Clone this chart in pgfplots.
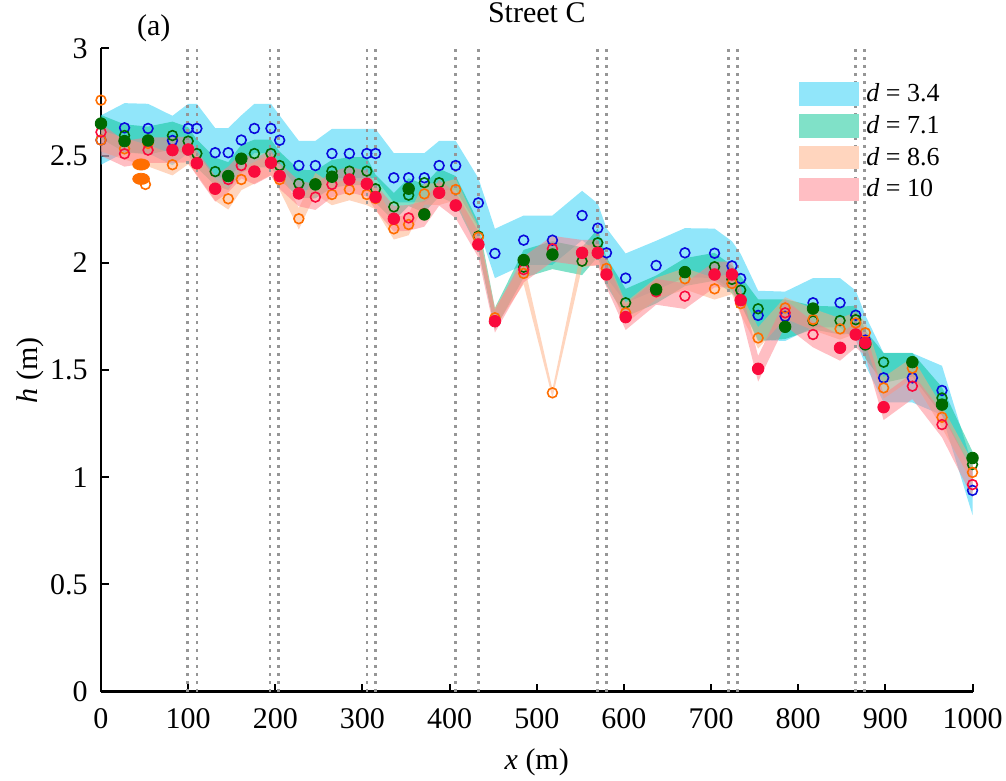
\documentclass[border=0pt]{standalone}
\usepackage{fontspec}
\setmainfont{Liberation Serif}
\usepackage{pgfplots}
\usepackage{pgfplotstable}
\pgfplotsset{compat=1.18}
\usepgfplotslibrary{fillbetween}

% band colours (drawn at half opacity) and swatch colours for the legend
\definecolor{cyanB}{RGB}{35,205,245}
\definecolor{tealB}{RGB}{0,195,145}
\definecolor{peachB}{RGB}{255,171,125}
\definecolor{pinkB}{RGB}{255,125,135}
\definecolor{cyanL}{RGB}{145,230,250}
\definecolor{tealL}{RGB}{128,225,200}
\definecolor{peachL}{RGB}{255,213,190}
\definecolor{pinkL}{RGB}{255,190,195}
% marker colours
\definecolor{mBlue}{RGB}{10,10,220}
\definecolor{mGreen}{RGB}{0,105,0}
\definecolor{mOrange}{RGB}{255,110,0}
\definecolor{mRed}{RGB}{250,10,60}
\definecolor{dotgray}{RGB}{150,150,150}

% spread bands: x, lower, upper
\pgfplotstableread{
x lo hi
0 2.458 2.688
27 2.515 2.745
54 2.512 2.742
82 2.456 2.686
100 2.512 2.742
110 2.512 2.742
131 2.399 2.629
146 2.399 2.629
161 2.458 2.688
176 2.512 2.742
195 2.512 2.742
205 2.457 2.687
227 2.339 2.569
246 2.339 2.569
265 2.395 2.625
285 2.395 2.625
305 2.395 2.625
315 2.395 2.625
336 2.282 2.512
353 2.282 2.512
371 2.282 2.512
388 2.339 2.569
407 2.339 2.569
433 2.165 2.395
452 1.929 2.159
485 1.991 2.221
518 1.991 2.221
552 2.106 2.336
570 2.047 2.277
580 1.932 2.162
602 1.814 2.044
637 1.873 2.103
670 1.932 2.162
704 1.930 2.160
724 1.871 2.101
734 1.812 2.042
754 1.640 1.870
785 1.636 1.866
817 1.699 1.929
848 1.699 1.929
866 1.641 1.871
877 1.525 1.755
898 1.349 1.579
931 1.349 1.579
965 1.290 1.520
1000 0.824 1.054
}\bandA

\pgfplotstableread{
x lo hi
0 2.580 2.690
27 2.516 2.646
54 2.506 2.636
82 2.529 2.659
100 2.503 2.633
110 2.445 2.575
131 2.361 2.491
146 2.340 2.470
161 2.421 2.551
176 2.445 2.575
195 2.445 2.575
205 2.389 2.519
227 2.305 2.435
246 2.301 2.431
265 2.350 2.480
285 2.363 2.493
305 2.363 2.493
315 2.281 2.411
336 2.196 2.326
353 2.265 2.395
371 2.235 2.365
388 2.309 2.439
407 2.275 2.405
433 2.060 2.190
452 1.690 1.790
485 1.931 2.061
518 1.971 2.101
552 1.943 2.073
570 2.029 2.159
580 1.895 2.025
602 1.749 1.879
637 1.811 1.941
670 1.892 2.022
704 1.917 2.047
724 1.858 1.988
734 1.808 1.938
754 1.635 1.830
785 1.645 1.830
817 1.690 1.800
848 1.666 1.796
866 1.670 1.800
877 1.555 1.685
898 1.440 1.580
931 1.470 1.580
965 1.290 1.420
1000 1.030 1.120
}\bandB

\pgfplotstableread{
x lo hi
0 2.520 2.620
27 2.482 2.582
54 2.450 2.550
82 2.408 2.508
100 2.460 2.560
110 2.412 2.512
131 2.290 2.390
146 2.249 2.349
161 2.339 2.439
176 2.370 2.470
195 2.410 2.510
205 2.339 2.439
227 2.156 2.256
246 2.320 2.420
265 2.269 2.369
285 2.292 2.392
305 2.269 2.369
315 2.250 2.350
336 2.109 2.209
353 2.129 2.229
371 2.272 2.372
388 2.270 2.370
407 2.292 2.392
433 2.070 2.170
452 1.700 1.790
485 1.901 2.001
518 1.370 1.410
552 1.980 2.080
570 1.990 2.090
580 1.924 2.024
602 1.717 1.817
637 1.830 1.930
670 1.876 1.976
704 1.829 1.929
724 1.854 1.954
734 1.760 1.860
754 1.600 1.700
785 1.740 1.840
817 1.686 1.786
848 1.642 1.742
866 1.670 1.770
877 1.624 1.724
898 1.367 1.467
931 1.459 1.559
965 1.230 1.330
1000 0.973 1.073
}\bandC

\pgfplotstableread{
x lo hi
0 2.500 2.650
27 2.449 2.569
54 2.466 2.586
82 2.466 2.586
100 2.469 2.589
110 2.405 2.525
131 2.286 2.406
146 2.329 2.449
161 2.394 2.514
176 2.366 2.486
195 2.407 2.527
205 2.345 2.465
227 2.264 2.384
246 2.247 2.367
265 2.306 2.426
285 2.329 2.449
305 2.309 2.429
315 2.247 2.367
336 2.146 2.266
353 2.150 2.270
371 2.169 2.289
388 2.267 2.387
407 2.208 2.328
433 2.026 2.146
452 1.675 1.780
485 1.909 2.029
518 2.006 2.126
552 1.987 2.107
570 1.987 2.107
580 1.886 2.006
602 1.687 1.807
637 1.805 1.925
670 1.785 1.905
704 1.886 2.006
724 1.886 2.006
734 1.766 1.886
754 1.446 1.566
785 1.707 1.827
817 1.606 1.726
848 1.544 1.664
866 1.606 1.726
877 1.567 1.687
898 1.267 1.387
931 1.365 1.485
965 1.186 1.306
1000 0.906 1.026
}\bandD

% measured heights
\pgfplotstableread{
x y
0 2.573
27 2.630
54 2.627
82 2.571
100 2.627
110 2.627
131 2.514
146 2.514
161 2.573
176 2.627
195 2.627
205 2.572
227 2.454
246 2.454
265 2.510
285 2.510
305 2.510
315 2.510
336 2.397
353 2.397
371 2.397
388 2.454
407 2.454
433 2.280
452 2.044
485 2.106
518 2.106
552 2.221
570 2.162
580 2.047
602 1.929
637 1.988
670 2.047
704 2.045
724 1.986
734 1.927
754 1.755
785 1.751
817 1.814
848 1.814
866 1.756
877 1.640
898 1.464
931 1.464
965 1.405
1000 0.939
}\blueOpen

\pgfplotstableread{
x y
27 2.594
82 2.594
100 2.568
110 2.510
131 2.426
176 2.510
195 2.510
205 2.454
227 2.370
265 2.428
285 2.428
305 2.428
315 2.346
336 2.261
353 2.316
371 2.374
388 2.374
433 2.125
485 1.980
552 2.008
570 2.094
602 1.814
704 1.982
724 1.923
734 1.873
754 1.786
817 1.730
848 1.731
866 1.735
898 1.537
965 1.370
1000 1.060
}\greenOpen

\pgfplotstableread{
x y
0 2.650
27 2.568
54 2.571
146 2.405
161 2.486
246 2.366
265 2.402
353 2.346
371 2.226
485 2.013
518 2.039
637 1.876
670 1.957
785 1.702
817 1.787
877 1.620
931 1.537
965 1.339
1000 1.090
}\greenFilled

\pgfplotstableread{
x y
0 2.759
0 2.573
27 2.532
54 2.557
51 2.366
82 2.458
110 2.462
146 2.299
161 2.389
205 2.389
227 2.206
246 2.370
265 2.319
285 2.342
305 2.319
315 2.300
336 2.159
353 2.179
371 2.322
407 2.342
433 2.120
452 1.744
485 1.951
518 1.394
580 1.974
602 1.767
637 1.880
670 1.926
704 1.879
724 1.904
734 1.810
754 1.650
785 1.790
817 1.736
848 1.692
866 1.720
877 1.674
898 1.417
931 1.509
965 1.280
1000 1.023
}\orangeOpen

\pgfplotstableread{
x y
46 2.459
46 2.392
}\orangeBlob

\pgfplotstableread{
x y
0 2.610
27 2.509
54 2.526
146 2.389
161 2.454
246 2.307
265 2.366
353 2.210
371 2.230
485 1.969
518 2.066
637 1.865
670 1.845
785 1.767
817 1.666
931 1.425
965 1.246
1000 0.966
}\redOpen

\pgfplotstableread{
x y
82 2.526
100 2.529
110 2.465
131 2.346
176 2.426
195 2.467
205 2.405
227 2.324
285 2.389
305 2.369
315 2.307
336 2.206
388 2.327
407 2.268
433 2.086
452 1.728
552 2.047
570 2.047
580 1.946
602 1.747
704 1.946
724 1.946
734 1.826
754 1.506
848 1.604
866 1.666
877 1.627
898 1.327
}\redFilled

\begin{document}
\begin{tikzpicture}
\begin{axis}[
  name=ax,
  scale only axis,
  width=435.75pt, height=321.6pt,
  xmin=0, xmax=1000, ymin=0, ymax=3,
  clip=false,
  axis lines=left,
  axis line style={-, line width=1.3pt, black},
  xtick={0,100,...,1000},
  ytick={0,0.5,1,1.5,2,2.5,3},
  tick align=inside,
  major tick length=4pt,
  tick style={line width=1pt, black},
  /pgf/number format/assume math mode=true,
  /pgf/number format/1000 sep={},
  font=\fontsize{15}{17}\selectfont,
  ticklabel style={font=\fontsize{15}{17}\selectfont},
  yticklabel style={inner sep=0pt, anchor=east, xshift=-6.5pt},
  xticklabel style={inner sep=0pt, anchor=north, yshift=-8pt},
  xlabel={\textit{x} (m)},
  ylabel={\textit{h} (m)},
  xlabel style={at={(axis description cs:0.5,-0.109)}, anchor=center},
  ylabel style={at={(axis description cs:-0.0815,0.5)}, anchor=center},
  title={Street C},
  title style={at={(0.5,1)}, anchor=base, yshift=6.75pt, inner sep=0pt},
  legend style={at={(0.801,0.9475)}, anchor=north west, draw=none, fill=none,
    inner sep=0pt, outer sep=0pt, row sep=4.2pt,
    font=\fontsize{13}{15}\selectfont,
    nodes={inner sep=0pt},
    /tikz/every odd column/.append style={column sep=3.75pt}},
  legend cell align=left,
]

% spread bands
\addplot[draw=none, name path=aH, forget plot] table[x=x, y=hi]{\bandA};
\addplot[draw=none, name path=aL, forget plot] table[x=x, y=lo]{\bandA};
\addplot[fill=cyanB, fill opacity=0.5, draw=none, forget plot] fill between[of=aH and aL];
\addplot[draw=none, name path=bH, forget plot] table[x=x, y=hi]{\bandB};
\addplot[draw=none, name path=bL, forget plot] table[x=x, y=lo]{\bandB};
\addplot[fill=tealB, fill opacity=0.5, draw=none, forget plot] fill between[of=bH and bL];
\addplot[draw=none, name path=cH, forget plot] table[x=x, y=hi]{\bandC};
\addplot[draw=none, name path=cL, forget plot] table[x=x, y=lo]{\bandC};
\addplot[fill=peachB, fill opacity=0.5, draw=none, forget plot] fill between[of=cH and cL];
\addplot[draw=none, name path=dH, forget plot] table[x=x, y=hi]{\bandD};
\addplot[draw=none, name path=dL, forget plot] table[x=x, y=lo]{\bandD};
\addplot[fill=pinkB, fill opacity=0.5, draw=none, forget plot] fill between[of=dH and dL];

% junction positions
\pgfplotsinvokeforeach{99,110,194,204,305,315,407,433,570,580,720,730,866,876}{
  \addplot[dotgray, line width=1.3pt, dash pattern=on 1.1pt off 2.9pt, forget plot]
    coordinates {(#1,0) (#1,3)};
}

% measured points
\addplot[only marks, mark=o, mark size=2.45pt, mBlue, line width=0.8pt, forget plot] table{\blueOpen};
\addplot[only marks, mark=o, mark size=2.45pt, mGreen, line width=0.8pt, forget plot] table{\greenOpen};
\addplot[only marks, mark=o, mark size=2.45pt, mOrange, line width=0.8pt, forget plot] table{\orangeOpen};
\addplot[only marks, mark=o, mark size=2.45pt, mRed, line width=0.8pt, forget plot] table{\redOpen};
\addplot[only marks, mark=*, mark size=2.9pt, mGreen, forget plot] table{\greenFilled};
\addplot[only marks, mark=*, mark size=2.9pt, mRed, forget plot] table{\redFilled};
\addplot[only marks, mark=*, mark size=2.8pt, mOrange, mark options={xscale=1.5}, forget plot] table{\orangeBlob};

\node[anchor=base west, inner sep=0pt, yshift=6.25pt] at (rel axis cs:0.041,1) {(a)};

\addlegendimage{legend image code/.code={\fill[cyanL] (0pt,-5.65pt) rectangle (29.5pt,5.65pt);}}
\addlegendentry{\textit{d} = 3.4}
\addlegendimage{legend image code/.code={\fill[tealL] (0pt,-5.65pt) rectangle (29.5pt,5.65pt);}}
\addlegendentry{\textit{d} = 7.1}
\addlegendimage{legend image code/.code={\fill[peachL] (0pt,-5.65pt) rectangle (29.5pt,5.65pt);}}
\addlegendentry{\textit{d} = 8.6}
\addlegendimage{legend image code/.code={\fill[pinkL] (0pt,-5.65pt) rectangle (29.5pt,5.65pt);}}
\addlegendentry{\textit{d} = 10}
\end{axis}
\pgfresetboundingbox
\path[use as bounding box] ([shift={(-50.5pt,-44.65pt)}]ax.south west) rectangle ([shift={(16.75pt,24.25pt)}]ax.north east);
\end{tikzpicture}
\end{document}
